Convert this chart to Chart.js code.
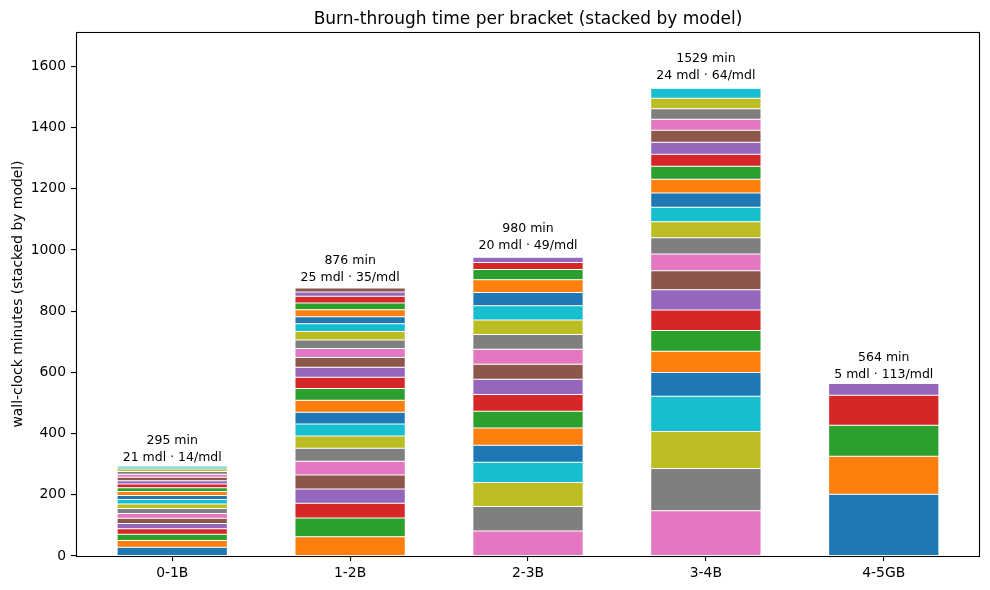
<!DOCTYPE html>
<html><head><meta charset="utf-8">
<script src="https://cdn.jsdelivr.net/npm/chart.js@4"></script>
<style>html,body{margin:0;padding:0;background:#fff}#wrap{width:990px;height:590px}</style>
</head><body><div id="wrap"><canvas id="c" width="990" height="590"></canvas></div>
<script>
// ---- data ----
const brackets = ["0-1B", "1-2B", "2-3B", "3-4B", "4-5GB"];
const mins_0_1B = [29, 22, 20, 18, 17, 17, 16, 16, 15, 15, 13, 13, 12, 12, 11, 11, 10, 9, 8, 7, 4];
const mins_1_2B = [63, 61, 48, 47, 46, 45, 42, 40, 39, 39, 39, 38, 37, 33, 32, 29, 28, 28, 25, 23, 23, 22, 22, 14, 13];
const mins_2_3B = [82, 80, 78, 66, 56, 56, 55, 55, 50, 49, 49, 48, 47, 47, 43, 42, 33, 23, 17, 4];
const mins_3_4B = [148, 138, 121, 115, 78, 69, 68, 67, 66, 62, 55, 53, 52, 48, 46, 45, 43, 39, 39, 39, 36, 35, 34, 33];
const mins_4_5GB = [202, 124, 101, 98, 39];
const yTicks = [0, 200, 400, 600, 800, 1000, 1200, 1400, 1600];
const titleText = "Burn-through time per bracket (stacked by model)";
const yTitleText = "wall-clock minutes (stacked by model)";

// ---- build ----
const TAB10 = ["#1f77b4","#ff7f0e","#2ca02c","#d62728","#9467bd","#8c564b","#e377c2","#7f7f7f","#bcbd22","#17becf"];
const FONT = "'DejaVu Sans', sans-serif";
const bracketMinutes = [mins_0_1B, mins_1_2B, mins_2_3B, mins_3_4B, mins_4_5GB];
const offsets = []; let acc = 0;
bracketMinutes.forEach(a => { offsets.push(acc); acc += a.length; });
const totals = bracketMinutes.map(a => a.reduce((s, v) => s + v, 0));
const maxLayers = Math.max(...bracketMinutes.map(a => a.length));
const BARW = 0.62;
const nB = brackets.length;
const span = (nB - 1) + BARW;
const xMin = -BARW / 2 - 0.05 * span, xMax = (nB - 1) + BARW / 2 + 0.05 * span;
const yMax = Math.max(...totals) * 1.12;

const datasets = [];
for (let j = 0; j < maxLayers; j++) {
  datasets.push({
    data: bracketMinutes.map((a, b) => ({ x: b, y: j < a.length ? a[j] : null })),
    backgroundColor: bracketMinutes.map((a, b) => TAB10[(offsets[b] + j) % 10]),
    borderColor: '#ffffff', borderWidth: 0.5, borderSkipped: false,
    barPercentage: BARW, categoryPercentage: 1.0
  });
}

const deco = {
  id: 'deco',
  afterDatasetsDraw(chart) {
    const { ctx, chartArea: a, scales: { x, y } } = chart;
    ctx.save();
    ctx.strokeStyle = '#000'; ctx.lineWidth = 1.1;
    ctx.strokeRect(a.left + 0.5, a.top + 0.5, a.right - a.left - 1, a.bottom - a.top);
    ctx.fillStyle = '#000';
    ctx.font = `12.5px ${FONT}`; ctx.textAlign = 'center'; ctx.textBaseline = 'alphabetic';
    totals.forEach((t, b) => {
      const px = x.getPixelForValue(b);
      const py = y.getPixelForValue(t * 1.012 + 8) - 1;
      const n = bracketMinutes[b].length;
      ctx.fillText(`${n} mdl \u00b7 ${Math.round(t / n)}/mdl`, px, py);
      ctx.fillText(`${t} min`, px, py - 17);
    });
    ctx.font = `17px ${FONT}`;
    ctx.fillText(titleText, (a.left + a.right) / 2, 23.5);
    ctx.translate(18, (a.top + a.bottom) / 2); ctx.rotate(-Math.PI / 2);
    ctx.font = `13.9px ${FONT}`; ctx.textBaseline = 'middle';
    ctx.fillText(yTitleText, 0, 0);
    ctx.restore();
  }
};

new Chart(document.getElementById('c'), {
  type: 'bar',
  data: { datasets },
  plugins: [deco],
  options: {
    responsive: false, animation: false,
    layout: { padding: { top: 32, right: 10, left: 0, bottom: 0 } },
    plugins: { legend: { display: false }, tooltip: { enabled: false }, title: { display: false } },
    scales: {
      x: {
        type: 'linear', stacked: true, offset: false, min: xMin, max: xMax,
        afterFit(s) { s.height = 34; },
        afterBuildTicks(s) { s.ticks = brackets.map((_, i) => ({ value: i })); },
        grid: { drawOnChartArea: false, drawTicks: true, tickLength: 5, color: '#000', lineWidth: 1.1, offset: false },
        border: { display: false },
        ticks: { color: '#000', font: { family: FONT, size: 13.9 }, padding: 4, maxRotation: 0, autoSkip: false,
                 callback: v => brackets[v] }
      },
      y: {
        type: 'linear', stacked: true, min: 0, max: yMax,
        afterFit(s) { s.width = 76; },
        afterBuildTicks(s) { s.ticks = yTicks.map(v => ({ value: v })); },
        grid: { drawOnChartArea: false, drawTicks: true, tickLength: 5, color: '#000', lineWidth: 1.1 },
        border: { display: false },
        ticks: { color: '#000', font: { family: FONT, size: 13.9 }, padding: 5, callback: v => String(v) }
      }
    }
  }
});
</script></body></html>
